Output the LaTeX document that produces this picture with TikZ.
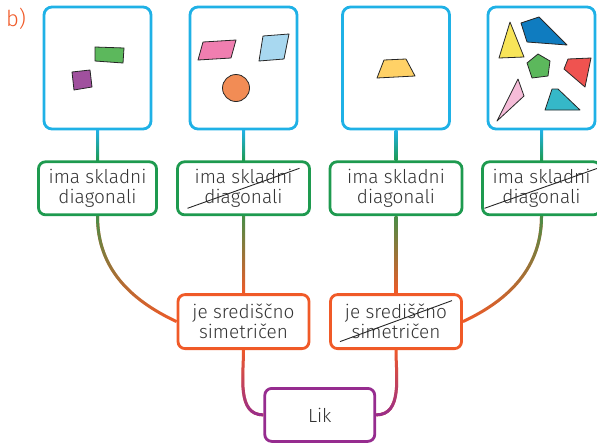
\documentclass[tikz,border=0pt]{standalone}
\usepackage{fontspec}
\setmainfont{Fira Sans Light}
\usepackage{tikz}
\usetikzlibrary{positioning,calc,fadings}

\definecolor{cblue}{HTML}{1FB1E6}
\definecolor{cgreen}{HTML}{1E9A4F}
\definecolor{corange}{HTML}{F05A28}
\definecolor{cpurple}{HTML}{962C8F}
\definecolor{ctext}{HTML}{333333}
% shape fills
\definecolor{fgreen}{HTML}{5CB85C}
\definecolor{fviolet}{HTML}{A0509E}
\definecolor{fpink}{HTML}{F07EB0}
\definecolor{fsky}{HTML}{A8D8F0}
\definecolor{forange}{HTML}{F28C55}
\definecolor{fgold}{HTML}{FFD166}
\definecolor{fyellow}{HTML}{F8E559}
\definecolor{fnavy}{HTML}{0F7CC0}
\definecolor{fred}{HTML}{EF5350}
\definecolor{frose}{HTML}{F5BCD8}
\definecolor{fteal}{HTML}{35B8C8}

\begin{document}
\begin{tikzpicture}[
    x=1pt, y=1pt,
    font=\fontsize{19}{20}\selectfont,
    node distance=30pt,
    shapebox/.style={draw=cblue, line width=2.8pt, rounded corners=8pt, minimum width=107pt, minimum height=122pt},
    propbox/.style={draw=cgreen, line width=2.8pt, rounded corners=7pt, minimum height=53pt, align=center, text=ctext},
    symbox/.style={draw=corange, line width=2.8pt, rounded corners=7pt, minimum width=131pt, minimum height=54pt, align=center, text=ctext},
    likbox/.style={draw=cpurple, line width=2.8pt, rounded corners=7pt, minimum width=110pt, minimum height=53pt, text=ctext},
    tile/.style={draw=black!85, line width=0.8pt, line join=round},
    strike/.style={draw=black!85, line width=0.9pt},
    conline/.style={line width=3pt}
  ]
  \useasboundingbox (0,0) rectangle (597,-442);

  % label
  \node[text=corange, font=\fontsize{22}{24}\selectfont] (lbl) at (16,-19) {b)};

  % picture boxes
  \node[shapebox] (b1) at (97.5,-68) {};
  \node[shapebox] (b2) at (243.5,-68) {};
  \node[shapebox] (b3) at (396,-68) {};
  \node[shapebox] (b4) at (541.5,-68) {};

  % first property
  \node[propbox, minimum width=118pt, below=of b1] (g1) {ima skladni\\diagonali};
  \node[propbox, minimum width=132pt, below=of b2] (g2) {ima skladni\\diagonali};
  \node[propbox, minimum width=132pt, below=of b3] (g3) {ima skladni\\diagonali};
  \node[propbox, minimum width=118pt, below=of b4] (g4) {ima skladni\\diagonali};

  % second property
  \node[symbox, below=77pt of g2] (o1) {je središčno\\simetričen};
  \node[symbox, below=77pt of g3] (o2) {je središčno\\simetričen};

  \coordinate (mid) at ($(o1.south)!0.5!(o2.south)$);
  \node[likbox, below=37pt of mid] (lik) {Lik};

  % crossed out
  \draw[strike] ([shift={(-56,-20)}]g2.center) -- ([shift={(56,20)}]g2.center);
  \draw[strike] ([shift={(-57,-20)}]g4.center) -- ([shift={(56,20)}]g4.center);
  \draw[strike] ([shift={(-56,-20)}]o2.center) -- ([shift={(56,21)}]o2.center);

  % shapes in box 1
  \fill[tile, fill=fgreen] (95,-47) -- (124,-48) -- (123,-63) -- (95,-61) -- cycle;
  \fill[tile, fill=fviolet] (72,-72) -- (90,-70) -- (92,-87) -- (74,-90) -- cycle;
  % shapes in box 2
  \fill[tile, fill=fpink] (203,-42) -- (236,-40) -- (231,-58) -- (198,-60) -- cycle;
  \fill[tile, fill=fsky] (263,-36) -- (289,-34) -- (284,-59) -- (259,-61) -- cycle;
  \fill[tile, fill=forange] (236,-88) circle (13.5);
  % shapes in box 3
  \fill[tile, fill=fgold] (384,-60) -- (406,-59) -- (415,-76) -- (377,-78) -- cycle;
  % shapes in box 4
  \fill[tile, fill=fyellow] (510,-22) -- (524,-57) -- (499,-58) -- cycle;
  \fill[tile, fill=fnavy] (521,-23) -- (539,-17) -- (567,-45) -- (527,-42) -- cycle;
  \fill[tile, fill=fgreen] (538,-54) -- (550,-61) -- (548,-76) -- (532,-78) -- (527,-63) -- cycle;
  \fill[tile, fill=fred] (568,-59) -- (591,-58) -- (585,-87) -- (564,-69) -- cycle;
  \fill[tile, fill=frose] (518,-79) -- (524,-96) -- (497,-121) -- cycle;
  \fill[tile, fill=fteal] (552,-89) -- (558,-89) -- (580,-110) -- (545,-110) -- cycle;

  % connectors
  \shade[top color=cblue, bottom color=cgreen] ([xshift=-1.5]b1.south) rectangle ([xshift=1.5]g1.north);
  \shade[top color=cblue, bottom color=cgreen] ([xshift=-1.5]b2.south) rectangle ([xshift=1.5]g2.north);
  \shade[top color=cblue, bottom color=cgreen] ([xshift=-1.5]b3.south) rectangle ([xshift=1.5]g3.north);
  \shade[top color=cblue, bottom color=cgreen] ([xshift=-1.5]b4.south) rectangle ([xshift=1.5]g4.north);

  \shade[top color=cgreen!80!corange, bottom color=corange] ([xshift=-1.5]g2.south) rectangle ([xshift=1.5]o1.north);
  \shade[top color=cgreen!80!corange, bottom color=corange] ([xshift=-1.5]g3.south) rectangle ([xshift=1.5]o2.north);

  \draw[conline, corange] (g1.south) to[out=-90, in=155] (o1.west);
  \draw[conline, cgreen!80!corange, path fading=south] (g1.south) to[out=-90, in=155] (o1.west);
  \draw[conline, corange] (g4.south) to[out=-90, in=25] (o2.east);
  \draw[conline, cgreen!80!corange, path fading=south] (g4.south) to[out=-90, in=25] (o2.east);

  \draw[conline, corange] (o1.south) to[out=-90, in=180] (lik.west);
  \draw[conline, cpurple, path fading=north] (o1.south) to[out=-90, in=180] (lik.west);
  \draw[conline, corange] (o2.south) to[out=-90, in=0] (lik.east);
  \draw[conline, cpurple, path fading=north] (o2.south) to[out=-90, in=0] (lik.east);

\end{tikzpicture}
\end{document}
